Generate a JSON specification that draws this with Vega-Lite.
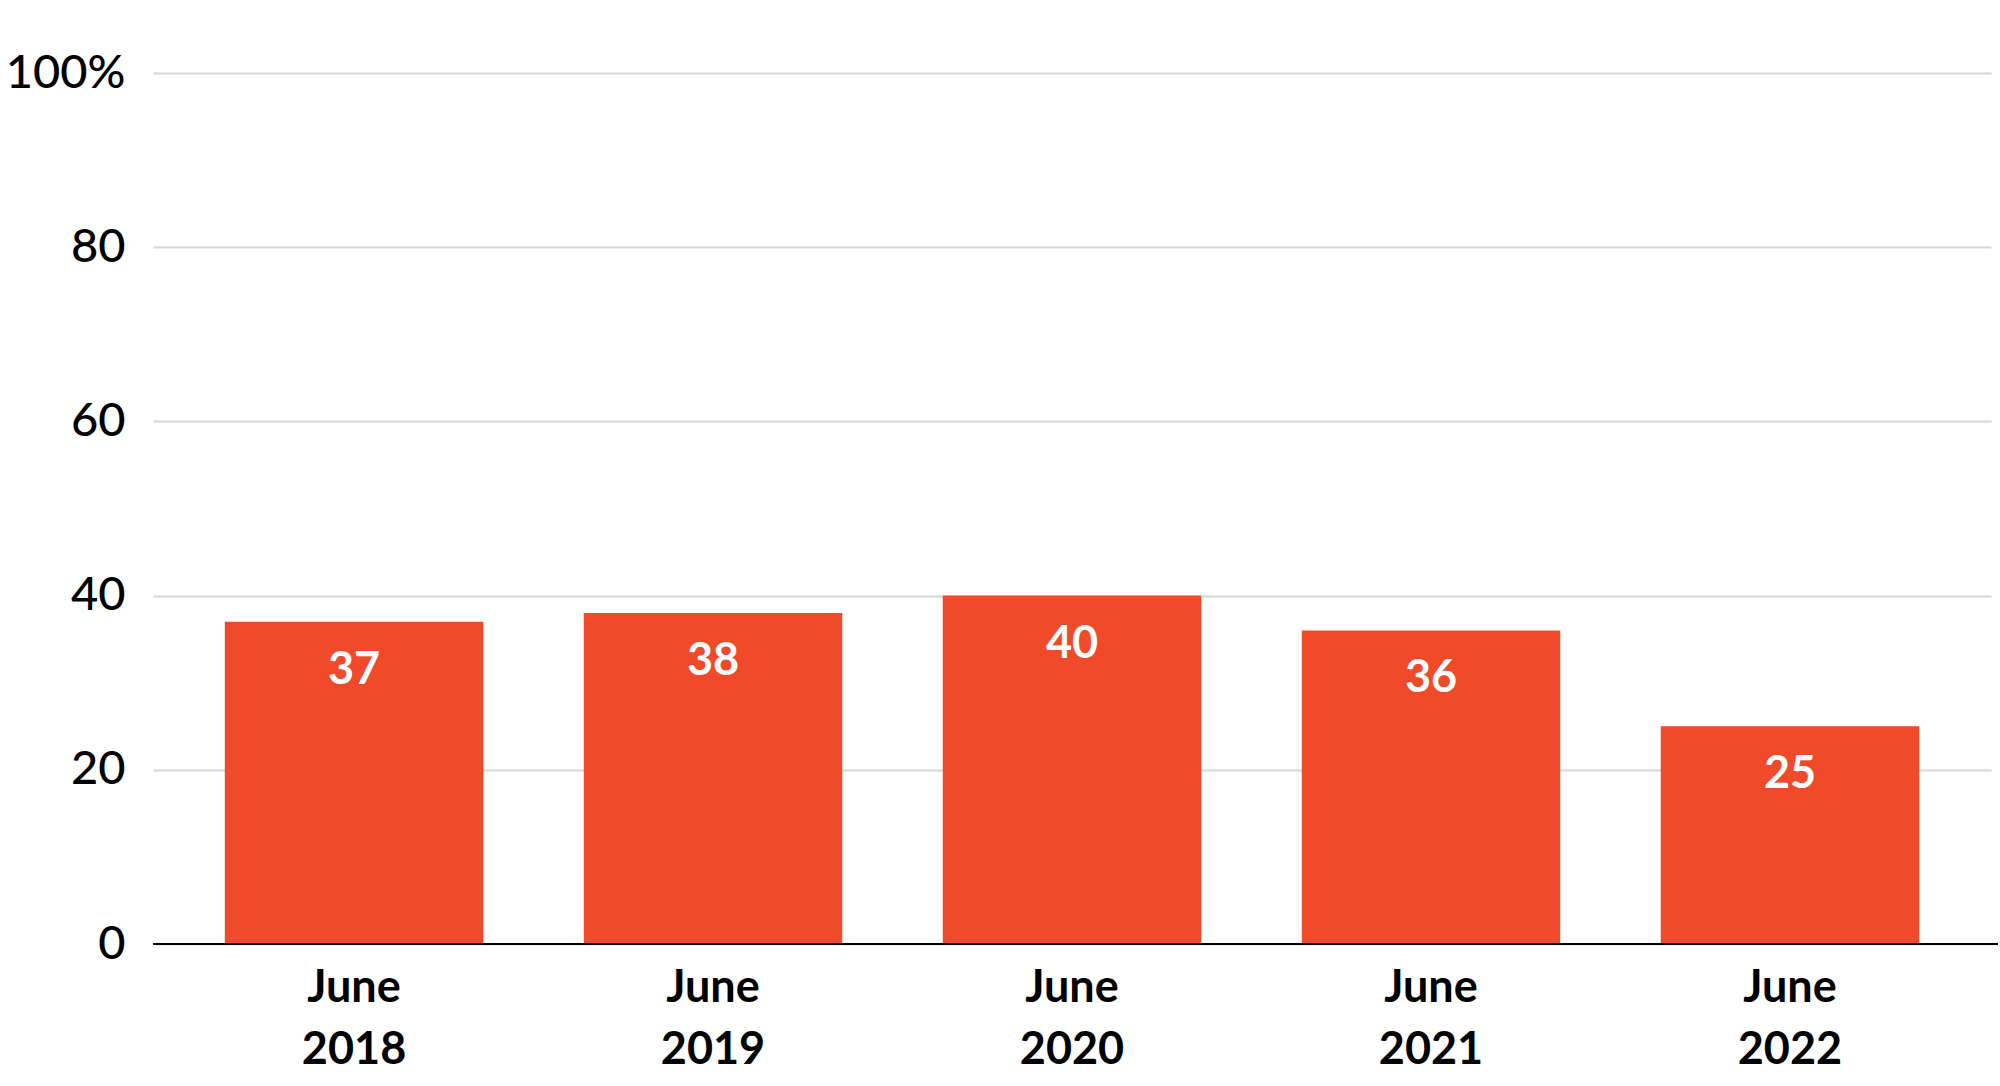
{
  "$schema": "https://vega.github.io/schema/vega-lite/v6.json",
  "autosize": "none",
  "width": 1843,
  "height": 871,
  "padding": {"left": 153, "top": 73, "right": 4, "bottom": 142},
  "background": "white",
  "config": {"view": {"stroke": null}, "font": "Lato"},
  "data": {"values": [
    {"period": "June 2018", "value": 37},
    {"period": "June 2019", "value": 38},
    {"period": "June 2020", "value": 40},
    {"period": "June 2021", "value": 36},
    {"period": "June 2022", "value": 25}
  ]},
  "encoding": {
    "x": {"field": "period", "type": "nominal", "sort": null,
      "scale": {"paddingInner": 0.28, "paddingOuter": 0.2, "range": [0, 1838]},
      "axis": {"title": null, "domain": false, "ticks": false, "labelAngle": 0,
        "labelFont": "Lato", "labelFontWeight": "bold", "labelFontSize": 45, "labelColor": "black",
        "labelExpr": "split(datum.label, ' ')", "labelLineHeight": 62, "labelPadding": 21}}
  },
  "layer": [
    {
      "mark": {"type": "bar", "color": "#F04A2B"},
      "encoding": {
        "y": {"field": "value", "type": "quantitative",
          "scale": {"domain": [0, 100]},
          "axis": {"title": null, "domain": false, "ticks": false, "values": [0, 20, 40, 60, 80, 100],
            "gridColor": "#d6d6d6", "gridWidth": 2,
            "labelFont": "Lato", "labelFontSize": 47, "labelFontWeight": 500, "labelColor": "black", "labelPadding": 28,
            "labelExpr": "datum.value == 100 ? '100%' : datum.label"}}
      }
    },
    {
      "mark": {"type": "text", "color": "white", "fontWeight": "bold", "fontSize": 45, "font": "Lato", "baseline": "middle", "dy": 48},
      "encoding": {
        "y": {"field": "value", "type": "quantitative"},
        "text": {"field": "value", "type": "quantitative"}
      }
    },
    {
      "mark": {"type": "rule", "color": "black", "strokeWidth": 2},
      "encoding": {"y": {"datum": 0, "type": "quantitative"}, "x": {"value": 0}, "x2": {"value": 1845}}
    }
  ]
}
